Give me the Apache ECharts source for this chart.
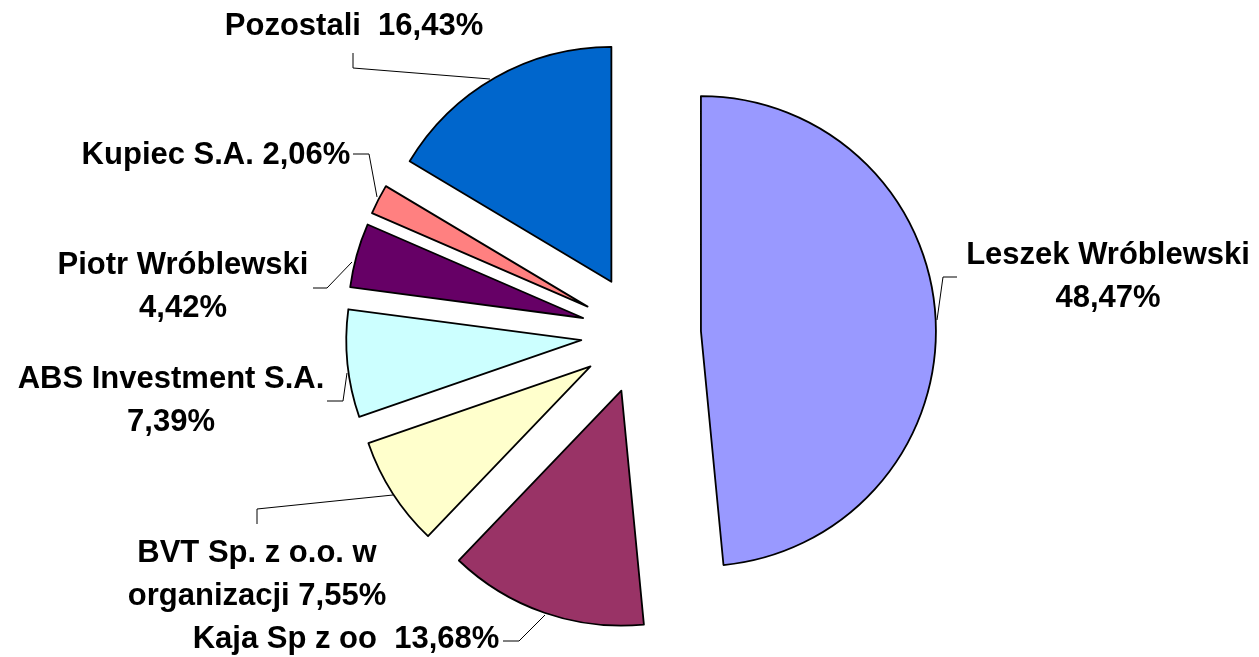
<!DOCTYPE html>
<html>
<head>
<meta charset="utf-8">
<script src="https://cdn.jsdelivr.net/npm/echarts@6/dist/echarts.min.js"></script>
<style>
  html, body { margin: 0; padding: 0; background: #fff; }
  #chart { width: 1259px; height: 657px; }
</style>
</head>
<body>
<div id="chart"></div>
<script>
// shareholders, clockwise from 12 o'clock
const categories = ['Leszek Wróblewski', 'Kaja Sp z oo', 'BVT Sp. z o.o. w organizacji',
  'ABS Investment S.A.', 'Piotr Wróblewski', 'Kupiec S.A.', 'Pozostali']
const shares = [48.47, 13.68, 7.55, 7.39, 4.42, 2.06, 16.43]
// label text as wrapped in the original
const labelNames = ['Leszek Wróblewski\n', 'Kaja Sp z oo  ', 'BVT Sp. z o.o. w\norganizacji ',
  'ABS Investment S.A.\n', 'Piotr Wróblewski\n', 'Kupiec S.A. ', 'Pozostali  ']
const colors = ['#9999FF', '#993366', '#FFFFCC', '#CCFFFF', '#660066', '#FF8080', '#0066CC']

// label placement (centre of text block) and leader lines
const labelPos = [[1108, 277], [346, 639], [257, 575], [171, 401], [183, 287], [216, 155], [354, 26]]
const leaderPts = [
  [[937, 320], [943, 277], [957, 277]],
  [[545, 615], [519, 641], [503, 641]],
  [[393, 495], [257, 509], [257, 524]],
  [[347, 373], [343, 401], [327, 401]],
  [[352, 262], [327, 288], [313, 288]],
  [[377, 197], [369, 154], [353, 154]],
  [[490, 79], [353, 68], [353, 53]]
]

var chart = echarts.init(document.getElementById('chart'))

var slices = categories.map(function (name, i) {
  return { name: name, value: shares[i], selected: true, itemStyle: { color: colors[i] } }
})
// same values, invisible, only carries the labels
var labelSlices = categories.map(function (name, i) {
  return { name: name, value: shares[i] }
})

var option = {
  animation: false,
  series: [
    {
      type: 'pie',
      center: [641, 334],
      radius: [0, 235],
      startAngle: 90,
      clockwise: true,
      selectedMode: 'multiple',
      selectedOffset: 60,
      silent: true,
      itemStyle: { borderColor: '#000', borderWidth: 1.8 },
      select: { itemStyle: { borderColor: '#000', borderWidth: 1.8 } },
      emphasis: { disabled: true },
      label: { show: false },
      labelLine: { show: false },
      data: slices
    },
    {
      type: 'pie',
      center: [641, 334],
      radius: [0, 235],
      startAngle: 90,
      clockwise: true,
      silent: true,
      avoidLabelOverlap: false,
      itemStyle: { color: 'rgba(0,0,0,0)', borderWidth: 0 },
      emphasis: { disabled: true },
      label: {
        show: true,
        position: 'outside',
        fontFamily: 'Liberation Sans, Arial, sans-serif',
        fontWeight: 'bold',
        fontSize: 31,
        lineHeight: 43,
        color: '#000',
        align: 'center',
        formatter: function (p) {
          return labelNames[p.dataIndex] + p.value.toFixed(2).replace('.', ',') + '%'
        }
      },
      labelLine: {
        show: true,
        lineStyle: { color: '#000', width: 1 }
      },
      labelLayout: function (p) {
        var i = p.dataIndex
        return {
          x: labelPos[i][0],
          y: labelPos[i][1],
          align: 'center',
          verticalAlign: 'middle',
          labelLinePoints: leaderPts[i]
        }
      },
      data: labelSlices
    }
  ]
}

chart.setOption(option)
</script>
</body>
</html>
